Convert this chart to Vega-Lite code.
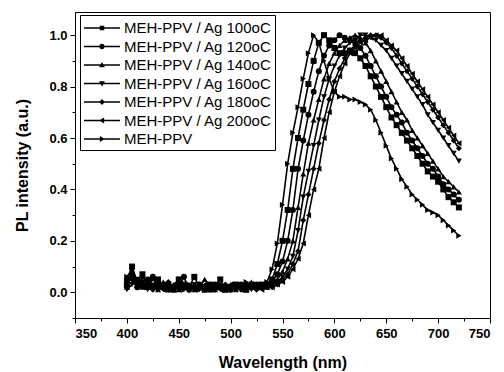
{
  "$schema": "https://vega.github.io/schema/vega-lite/v6.json",
  "autosize": "none",
  "width": 415,
  "height": 306,
  "padding": {"left": 75, "top": 12, "right": 14, "bottom": 54},
  "background": "white",
  "config": {
    "font": "Liberation Sans",
    "view": {"stroke": "black", "strokeWidth": 1},
    "axis": {"grid": false, "domainColor": "black", "tickColor": "black", "labelColor": "black", "titleColor": "black", "labelFontWeight": "bold", "labelFontSize": 13, "titleFontWeight": "bold", "titleFontSize": 16, "tickSize": 5, "domainWidth": 1, "tickWidth": 1}
  },
  "data": {"values": [
    {"x":400,"MEH-PPV / Ag 100oC":0.03,"MEH-PPV / Ag 120oC":0.05,"MEH-PPV / Ag 140oC":0.02,"MEH-PPV / Ag 160oC":0.01,"MEH-PPV / Ag 180oC":0.04,"MEH-PPV / Ag 200oC":0.02,"MEH-PPV":0.06},
    {"x":405,"MEH-PPV / Ag 100oC":0.10,"MEH-PPV / Ag 120oC":0.06,"MEH-PPV / Ag 140oC":0.08,"MEH-PPV / Ag 160oC":0.03,"MEH-PPV / Ag 180oC":0.05,"MEH-PPV / Ag 200oC":0.07,"MEH-PPV":0.09},
    {"x":410,"MEH-PPV / Ag 100oC":0.04,"MEH-PPV / Ag 120oC":0.02,"MEH-PPV / Ag 140oC":0.03,"MEH-PPV / Ag 160oC":0.05,"MEH-PPV / Ag 180oC":0.02,"MEH-PPV / Ag 200oC":0.03,"MEH-PPV":0.04},
    {"x":415,"MEH-PPV / Ag 100oC":0.07,"MEH-PPV / Ag 120oC":0.03,"MEH-PPV / Ag 140oC":0.02,"MEH-PPV / Ag 160oC":0.04,"MEH-PPV / Ag 180oC":0.06,"MEH-PPV / Ag 200oC":0.02,"MEH-PPV":0.03},
    {"x":420,"MEH-PPV / Ag 100oC":0.03,"MEH-PPV / Ag 120oC":0.05,"MEH-PPV / Ag 140oC":0.02,"MEH-PPV / Ag 160oC":0.01,"MEH-PPV / Ag 180oC":0.03,"MEH-PPV / Ag 200oC":0.04,"MEH-PPV":0.02},
    {"x":425,"MEH-PPV / Ag 100oC":0.02,"MEH-PPV / Ag 120oC":0.06,"MEH-PPV / Ag 140oC":0.03,"MEH-PPV / Ag 160oC":0.02,"MEH-PPV / Ag 180oC":0.01,"MEH-PPV / Ag 200oC":0.03,"MEH-PPV":0.05},
    {"x":430,"MEH-PPV / Ag 100oC":0.05,"MEH-PPV / Ag 120oC":0.02,"MEH-PPV / Ag 140oC":0.01,"MEH-PPV / Ag 160oC":0.03,"MEH-PPV / Ag 180oC":0.02,"MEH-PPV / Ag 200oC":0.04,"MEH-PPV":0.03},
    {"x":435,"MEH-PPV / Ag 100oC":0.02,"MEH-PPV / Ag 120oC":0.03,"MEH-PPV / Ag 140oC":0.04,"MEH-PPV / Ag 160oC":0.01,"MEH-PPV / Ag 180oC":0.02,"MEH-PPV / Ag 200oC":0.01,"MEH-PPV":0.02},
    {"x":440,"MEH-PPV / Ag 100oC":0.03,"MEH-PPV / Ag 120oC":0.01,"MEH-PPV / Ag 140oC":0.02,"MEH-PPV / Ag 160oC":0.03,"MEH-PPV / Ag 180oC":0.04,"MEH-PPV / Ag 200oC":0.02,"MEH-PPV":0.01},
    {"x":445,"MEH-PPV / Ag 100oC":0.01,"MEH-PPV / Ag 120oC":0.02,"MEH-PPV / Ag 140oC":0.03,"MEH-PPV / Ag 160oC":0.02,"MEH-PPV / Ag 180oC":0.01,"MEH-PPV / Ag 200oC":0.03,"MEH-PPV":0.02},
    {"x":450,"MEH-PPV / Ag 100oC":0.05,"MEH-PPV / Ag 120oC":0.02,"MEH-PPV / Ag 140oC":0.01,"MEH-PPV / Ag 160oC":0.03,"MEH-PPV / Ag 180oC":0.02,"MEH-PPV / Ag 200oC":0.01,"MEH-PPV":0.03},
    {"x":455,"MEH-PPV / Ag 100oC":0.03,"MEH-PPV / Ag 120oC":0.06,"MEH-PPV / Ag 140oC":0.02,"MEH-PPV / Ag 160oC":0.01,"MEH-PPV / Ag 180oC":0.03,"MEH-PPV / Ag 200oC":0.02,"MEH-PPV":0.01},
    {"x":460,"MEH-PPV / Ag 100oC":0.02,"MEH-PPV / Ag 120oC":0.01,"MEH-PPV / Ag 140oC":0.03,"MEH-PPV / Ag 160oC":0.02,"MEH-PPV / Ag 180oC":0.01,"MEH-PPV / Ag 200oC":0.02,"MEH-PPV":0.03},
    {"x":465,"MEH-PPV / Ag 100oC":0.06,"MEH-PPV / Ag 120oC":0.02,"MEH-PPV / Ag 140oC":0.01,"MEH-PPV / Ag 160oC":0.03,"MEH-PPV / Ag 180oC":0.02,"MEH-PPV / Ag 200oC":0.01,"MEH-PPV":0.02},
    {"x":470,"MEH-PPV / Ag 100oC":0.02,"MEH-PPV / Ag 120oC":0.03,"MEH-PPV / Ag 140oC":0.02,"MEH-PPV / Ag 160oC":0.01,"MEH-PPV / Ag 180oC":0.03,"MEH-PPV / Ag 200oC":0.02,"MEH-PPV":0.01},
    {"x":475,"MEH-PPV / Ag 100oC":0.01,"MEH-PPV / Ag 120oC":0.02,"MEH-PPV / Ag 140oC":0.05,"MEH-PPV / Ag 160oC":0.02,"MEH-PPV / Ag 180oC":0.01,"MEH-PPV / Ag 200oC":0.03,"MEH-PPV":0.02},
    {"x":480,"MEH-PPV / Ag 100oC":0.03,"MEH-PPV / Ag 120oC":0.01,"MEH-PPV / Ag 140oC":0.02,"MEH-PPV / Ag 160oC":0.03,"MEH-PPV / Ag 180oC":0.02,"MEH-PPV / Ag 200oC":0.01,"MEH-PPV":0.02},
    {"x":485,"MEH-PPV / Ag 100oC":0.02,"MEH-PPV / Ag 120oC":0.03,"MEH-PPV / Ag 140oC":0.01,"MEH-PPV / Ag 160oC":0.02,"MEH-PPV / Ag 180oC":0.01,"MEH-PPV / Ag 200oC":0.02,"MEH-PPV":0.01},
    {"x":490,"MEH-PPV / Ag 100oC":0.05,"MEH-PPV / Ag 120oC":0.02,"MEH-PPV / Ag 140oC":0.03,"MEH-PPV / Ag 160oC":0.01,"MEH-PPV / Ag 180oC":0.02,"MEH-PPV / Ag 200oC":0.01,"MEH-PPV":0.03},
    {"x":495,"MEH-PPV / Ag 100oC":0.01,"MEH-PPV / Ag 120oC":0.02,"MEH-PPV / Ag 140oC":0.01,"MEH-PPV / Ag 160oC":0.02,"MEH-PPV / Ag 180oC":0.03,"MEH-PPV / Ag 200oC":0.02,"MEH-PPV":0.01},
    {"x":500,"MEH-PPV / Ag 100oC":0.02,"MEH-PPV / Ag 120oC":0.01,"MEH-PPV / Ag 140oC":0.03,"MEH-PPV / Ag 160oC":0.02,"MEH-PPV / Ag 180oC":0.01,"MEH-PPV / Ag 200oC":0.03,"MEH-PPV":0.02},
    {"x":505,"MEH-PPV / Ag 100oC":0.03,"MEH-PPV / Ag 120oC":0.02,"MEH-PPV / Ag 140oC":0.01,"MEH-PPV / Ag 160oC":0.01,"MEH-PPV / Ag 180oC":0.02,"MEH-PPV / Ag 200oC":0.02,"MEH-PPV":0.03},
    {"x":510,"MEH-PPV / Ag 100oC":0.02,"MEH-PPV / Ag 120oC":0.03,"MEH-PPV / Ag 140oC":0.02,"MEH-PPV / Ag 160oC":0.03,"MEH-PPV / Ag 180oC":0.01,"MEH-PPV / Ag 200oC":0.01,"MEH-PPV":0.02},
    {"x":515,"MEH-PPV / Ag 100oC":0.01,"MEH-PPV / Ag 120oC":0.02,"MEH-PPV / Ag 140oC":0.01,"MEH-PPV / Ag 160oC":0.02,"MEH-PPV / Ag 180oC":0.03,"MEH-PPV / Ag 200oC":0.02,"MEH-PPV":0.04},
    {"x":520,"MEH-PPV / Ag 100oC":0.03,"MEH-PPV / Ag 120oC":0.02,"MEH-PPV / Ag 140oC":0.04,"MEH-PPV / Ag 160oC":0.01,"MEH-PPV / Ag 180oC":0.02,"MEH-PPV / Ag 200oC":0.03,"MEH-PPV":0.02},
    {"x":525,"MEH-PPV / Ag 100oC":0.02,"MEH-PPV / Ag 120oC":0.03,"MEH-PPV / Ag 140oC":0.02,"MEH-PPV / Ag 160oC":0.02,"MEH-PPV / Ag 180oC":0.01,"MEH-PPV / Ag 200oC":0.02,"MEH-PPV":0.03},
    {"x":530,"MEH-PPV / Ag 100oC":0.03,"MEH-PPV / Ag 120oC":0.02,"MEH-PPV / Ag 140oC":0.03,"MEH-PPV / Ag 160oC":0.02,"MEH-PPV / Ag 180oC":0.02,"MEH-PPV / Ag 200oC":0.01,"MEH-PPV":0.03},
    {"x":535,"MEH-PPV / Ag 100oC":0.03,"MEH-PPV / Ag 120oC":0.03,"MEH-PPV / Ag 140oC":0.02,"MEH-PPV / Ag 160oC":0.03,"MEH-PPV / Ag 180oC":0.02,"MEH-PPV / Ag 200oC":0.02,"MEH-PPV":0.04},
    {"x":540,"MEH-PPV / Ag 100oC":0.05,"MEH-PPV / Ag 120oC":0.04,"MEH-PPV / Ag 140oC":0.03,"MEH-PPV / Ag 160oC":0.03,"MEH-PPV / Ag 180oC":0.02,"MEH-PPV / Ag 200oC":0.02,"MEH-PPV":0.09},
    {"x":545,"MEH-PPV / Ag 100oC":0.11,"MEH-PPV / Ag 120oC":0.07,"MEH-PPV / Ag 140oC":0.05,"MEH-PPV / Ag 160oC":0.04,"MEH-PPV / Ag 180oC":0.03,"MEH-PPV / Ag 200oC":0.03,"MEH-PPV":0.19},
    {"x":550,"MEH-PPV / Ag 100oC":0.20,"MEH-PPV / Ag 120oC":0.12,"MEH-PPV / Ag 140oC":0.08,"MEH-PPV / Ag 160oC":0.06,"MEH-PPV / Ag 180oC":0.05,"MEH-PPV / Ag 200oC":0.04,"MEH-PPV":0.34},
    {"x":555,"MEH-PPV / Ag 100oC":0.32,"MEH-PPV / Ag 120oC":0.20,"MEH-PPV / Ag 140oC":0.13,"MEH-PPV / Ag 160oC":0.09,"MEH-PPV / Ag 180oC":0.07,"MEH-PPV / Ag 200oC":0.06,"MEH-PPV":0.50},
    {"x":560,"MEH-PPV / Ag 100oC":0.48,"MEH-PPV / Ag 120oC":0.32,"MEH-PPV / Ag 140oC":0.20,"MEH-PPV / Ag 160oC":0.14,"MEH-PPV / Ag 180oC":0.11,"MEH-PPV / Ag 200oC":0.09,"MEH-PPV":0.62},
    {"x":565,"MEH-PPV / Ag 100oC":0.60,"MEH-PPV / Ag 120oC":0.48,"MEH-PPV / Ag 140oC":0.33,"MEH-PPV / Ag 160oC":0.24,"MEH-PPV / Ag 180oC":0.16,"MEH-PPV / Ag 200oC":0.13,"MEH-PPV":0.72},
    {"x":570,"MEH-PPV / Ag 100oC":0.71,"MEH-PPV / Ag 120oC":0.59,"MEH-PPV / Ag 140oC":0.46,"MEH-PPV / Ag 160oC":0.37,"MEH-PPV / Ag 180oC":0.28,"MEH-PPV / Ag 200oC":0.19,"MEH-PPV":0.83},
    {"x":575,"MEH-PPV / Ag 100oC":0.81,"MEH-PPV / Ag 120oC":0.69,"MEH-PPV / Ag 140oC":0.58,"MEH-PPV / Ag 160oC":0.47,"MEH-PPV / Ag 180oC":0.38,"MEH-PPV / Ag 200oC":0.30,"MEH-PPV":0.93},
    {"x":580,"MEH-PPV / Ag 100oC":0.90,"MEH-PPV / Ag 120oC":0.78,"MEH-PPV / Ag 140oC":0.67,"MEH-PPV / Ag 160oC":0.57,"MEH-PPV / Ag 180oC":0.48,"MEH-PPV / Ag 200oC":0.40,"MEH-PPV":1.00},
    {"x":585,"MEH-PPV / Ag 100oC":0.97,"MEH-PPV / Ag 120oC":0.86,"MEH-PPV / Ag 140oC":0.75,"MEH-PPV / Ag 160oC":0.67,"MEH-PPV / Ag 180oC":0.58,"MEH-PPV / Ag 200oC":0.48,"MEH-PPV":0.97},
    {"x":590,"MEH-PPV / Ag 100oC":1.00,"MEH-PPV / Ag 120oC":0.92,"MEH-PPV / Ag 140oC":0.83,"MEH-PPV / Ag 160oC":0.76,"MEH-PPV / Ag 180oC":0.67,"MEH-PPV / Ag 200oC":0.60,"MEH-PPV":0.90},
    {"x":595,"MEH-PPV / Ag 100oC":0.98,"MEH-PPV / Ag 120oC":0.96,"MEH-PPV / Ag 140oC":0.89,"MEH-PPV / Ag 160oC":0.83,"MEH-PPV / Ag 180oC":0.75,"MEH-PPV / Ag 200oC":0.70,"MEH-PPV":0.83},
    {"x":600,"MEH-PPV / Ag 100oC":0.95,"MEH-PPV / Ag 120oC":0.98,"MEH-PPV / Ag 140oC":0.93,"MEH-PPV / Ag 160oC":0.88,"MEH-PPV / Ag 180oC":0.82,"MEH-PPV / Ag 200oC":0.78,"MEH-PPV":0.78},
    {"x":605,"MEH-PPV / Ag 100oC":0.93,"MEH-PPV / Ag 120oC":1.00,"MEH-PPV / Ag 140oC":0.96,"MEH-PPV / Ag 160oC":0.92,"MEH-PPV / Ag 180oC":0.87,"MEH-PPV / Ag 200oC":0.84,"MEH-PPV":0.76},
    {"x":610,"MEH-PPV / Ag 100oC":0.93,"MEH-PPV / Ag 120oC":0.99,"MEH-PPV / Ag 140oC":0.98,"MEH-PPV / Ag 160oC":0.95,"MEH-PPV / Ag 180oC":0.91,"MEH-PPV / Ag 200oC":0.89,"MEH-PPV":0.76},
    {"x":615,"MEH-PPV / Ag 100oC":0.94,"MEH-PPV / Ag 120oC":0.98,"MEH-PPV / Ag 140oC":0.99,"MEH-PPV / Ag 160oC":0.97,"MEH-PPV / Ag 180oC":0.94,"MEH-PPV / Ag 200oC":0.93,"MEH-PPV":0.75},
    {"x":620,"MEH-PPV / Ag 100oC":0.93,"MEH-PPV / Ag 120oC":0.97,"MEH-PPV / Ag 140oC":1.00,"MEH-PPV / Ag 160oC":0.98,"MEH-PPV / Ag 180oC":0.96,"MEH-PPV / Ag 200oC":0.95,"MEH-PPV":0.75},
    {"x":625,"MEH-PPV / Ag 100oC":0.91,"MEH-PPV / Ag 120oC":0.95,"MEH-PPV / Ag 140oC":0.99,"MEH-PPV / Ag 160oC":1.00,"MEH-PPV / Ag 180oC":0.98,"MEH-PPV / Ag 200oC":0.97,"MEH-PPV":0.74},
    {"x":630,"MEH-PPV / Ag 100oC":0.88,"MEH-PPV / Ag 120oC":0.92,"MEH-PPV / Ag 140oC":0.97,"MEH-PPV / Ag 160oC":1.00,"MEH-PPV / Ag 180oC":0.99,"MEH-PPV / Ag 200oC":0.98,"MEH-PPV":0.73},
    {"x":635,"MEH-PPV / Ag 100oC":0.84,"MEH-PPV / Ag 120oC":0.88,"MEH-PPV / Ag 140oC":0.94,"MEH-PPV / Ag 160oC":0.99,"MEH-PPV / Ag 180oC":1.00,"MEH-PPV / Ag 200oC":0.99,"MEH-PPV":0.71},
    {"x":640,"MEH-PPV / Ag 100oC":0.80,"MEH-PPV / Ag 120oC":0.84,"MEH-PPV / Ag 140oC":0.90,"MEH-PPV / Ag 160oC":0.98,"MEH-PPV / Ag 180oC":1.00,"MEH-PPV / Ag 200oC":1.00,"MEH-PPV":0.67},
    {"x":645,"MEH-PPV / Ag 100oC":0.76,"MEH-PPV / Ag 120oC":0.80,"MEH-PPV / Ag 140oC":0.86,"MEH-PPV / Ag 160oC":0.96,"MEH-PPV / Ag 180oC":0.99,"MEH-PPV / Ag 200oC":1.00,"MEH-PPV":0.62},
    {"x":650,"MEH-PPV / Ag 100oC":0.72,"MEH-PPV / Ag 120oC":0.76,"MEH-PPV / Ag 140oC":0.82,"MEH-PPV / Ag 160oC":0.94,"MEH-PPV / Ag 180oC":0.97,"MEH-PPV / Ag 200oC":0.98,"MEH-PPV":0.57},
    {"x":655,"MEH-PPV / Ag 100oC":0.68,"MEH-PPV / Ag 120oC":0.72,"MEH-PPV / Ag 140oC":0.78,"MEH-PPV / Ag 160oC":0.91,"MEH-PPV / Ag 180oC":0.95,"MEH-PPV / Ag 200oC":0.96,"MEH-PPV":0.52},
    {"x":660,"MEH-PPV / Ag 100oC":0.65,"MEH-PPV / Ag 120oC":0.69,"MEH-PPV / Ag 140oC":0.74,"MEH-PPV / Ag 160oC":0.88,"MEH-PPV / Ag 180oC":0.92,"MEH-PPV / Ag 200oC":0.94,"MEH-PPV":0.48},
    {"x":665,"MEH-PPV / Ag 100oC":0.62,"MEH-PPV / Ag 120oC":0.66,"MEH-PPV / Ag 140oC":0.70,"MEH-PPV / Ag 160oC":0.85,"MEH-PPV / Ag 180oC":0.89,"MEH-PPV / Ag 200oC":0.91,"MEH-PPV":0.44},
    {"x":670,"MEH-PPV / Ag 100oC":0.59,"MEH-PPV / Ag 120oC":0.62,"MEH-PPV / Ag 140oC":0.67,"MEH-PPV / Ag 160oC":0.82,"MEH-PPV / Ag 180oC":0.86,"MEH-PPV / Ag 200oC":0.88,"MEH-PPV":0.41},
    {"x":675,"MEH-PPV / Ag 100oC":0.56,"MEH-PPV / Ag 120oC":0.59,"MEH-PPV / Ag 140oC":0.63,"MEH-PPV / Ag 160oC":0.79,"MEH-PPV / Ag 180oC":0.83,"MEH-PPV / Ag 200oC":0.85,"MEH-PPV":0.38},
    {"x":680,"MEH-PPV / Ag 100oC":0.53,"MEH-PPV / Ag 120oC":0.56,"MEH-PPV / Ag 140oC":0.60,"MEH-PPV / Ag 160oC":0.76,"MEH-PPV / Ag 180oC":0.80,"MEH-PPV / Ag 200oC":0.82,"MEH-PPV":0.36},
    {"x":685,"MEH-PPV / Ag 100oC":0.50,"MEH-PPV / Ag 120oC":0.53,"MEH-PPV / Ag 140oC":0.57,"MEH-PPV / Ag 160oC":0.73,"MEH-PPV / Ag 180oC":0.77,"MEH-PPV / Ag 200oC":0.79,"MEH-PPV":0.34},
    {"x":690,"MEH-PPV / Ag 100oC":0.47,"MEH-PPV / Ag 120oC":0.50,"MEH-PPV / Ag 140oC":0.54,"MEH-PPV / Ag 160oC":0.69,"MEH-PPV / Ag 180oC":0.74,"MEH-PPV / Ag 200oC":0.76,"MEH-PPV":0.32},
    {"x":695,"MEH-PPV / Ag 100oC":0.45,"MEH-PPV / Ag 120oC":0.48,"MEH-PPV / Ag 140oC":0.51,"MEH-PPV / Ag 160oC":0.66,"MEH-PPV / Ag 180oC":0.71,"MEH-PPV / Ag 200oC":0.73,"MEH-PPV":0.31},
    {"x":700,"MEH-PPV / Ag 100oC":0.43,"MEH-PPV / Ag 120oC":0.45,"MEH-PPV / Ag 140oC":0.48,"MEH-PPV / Ag 160oC":0.63,"MEH-PPV / Ag 180oC":0.68,"MEH-PPV / Ag 200oC":0.70,"MEH-PPV":0.30},
    {"x":705,"MEH-PPV / Ag 100oC":0.40,"MEH-PPV / Ag 120oC":0.42,"MEH-PPV / Ag 140oC":0.45,"MEH-PPV / Ag 160oC":0.60,"MEH-PPV / Ag 180oC":0.65,"MEH-PPV / Ag 200oC":0.67,"MEH-PPV":0.28},
    {"x":710,"MEH-PPV / Ag 100oC":0.37,"MEH-PPV / Ag 120oC":0.40,"MEH-PPV / Ag 140oC":0.43,"MEH-PPV / Ag 160oC":0.57,"MEH-PPV / Ag 180oC":0.62,"MEH-PPV / Ag 200oC":0.64,"MEH-PPV":0.26},
    {"x":715,"MEH-PPV / Ag 100oC":0.35,"MEH-PPV / Ag 120oC":0.38,"MEH-PPV / Ag 140oC":0.41,"MEH-PPV / Ag 160oC":0.54,"MEH-PPV / Ag 180oC":0.59,"MEH-PPV / Ag 200oC":0.61,"MEH-PPV":0.24},
    {"x":720,"MEH-PPV / Ag 100oC":0.33,"MEH-PPV / Ag 120oC":0.36,"MEH-PPV / Ag 140oC":0.39,"MEH-PPV / Ag 160oC":0.51,"MEH-PPV / Ag 180oC":0.56,"MEH-PPV / Ag 200oC":0.58,"MEH-PPV":0.22}
  ]},
  "transform": [
    {"fold": ["MEH-PPV / Ag 100oC","MEH-PPV / Ag 120oC","MEH-PPV / Ag 140oC","MEH-PPV / Ag 160oC","MEH-PPV / Ag 180oC","MEH-PPV / Ag 200oC","MEH-PPV"], "as": ["series","y"]}
  ],
  "resolve": {"scale": {"shape": "independent"}, "legend": {"shape": "independent"}, "axis": {"x": "independent", "y": "independent"}},
  "layer": [
    {
      "mark": {"type": "line", "color": "black", "strokeWidth": 1.6},
      "encoding": {
        "x": {"field": "x", "type": "quantitative", "scale": {"domain": [350, 750], "nice": false, "zero": false},
              "axis": {"orient": "bottom", "values": [350,400,450,500,550,600,650,700,750], "title": "Wavelength (nm)", "titlePadding": 14, "labelPadding": 4}},
        "y": {"field": "y", "type": "quantitative", "scale": {"domain": [-0.1, 1.09], "nice": false, "zero": false},
              "axis": {"orient": "left", "values": [0,0.2,0.4,0.6,0.8,1.0], "format": ".1f", "title": "PL intensity (a.u.)", "titlePadding": 18, "labelPadding": 3}},
        "detail": {"field": "series", "type": "nominal"}
      }
    },
    {
      "mark": {"type": "point", "filled": true, "color": "black", "size": 36, "opacity": 1},
      "encoding": {
        "x": {"field": "x", "type": "quantitative", "axis": null},
        "y": {"field": "y", "type": "quantitative", "axis": null},
        "shape": {"field": "series", "type": "nominal",
                  "scale": {"domain": ["MEH-PPV / Ag 100oC","MEH-PPV / Ag 120oC","MEH-PPV / Ag 140oC","MEH-PPV / Ag 160oC","MEH-PPV / Ag 180oC","MEH-PPV / Ag 200oC","MEH-PPV"],
                            "range": ["square","circle","triangle-up","triangle-down","diamond","triangle-left","triangle-right"]},
                  "legend": null}
      }
    },
    {
      "transform": [{"filter": "datum.x < 0"}],
      "mark": {"type": "point", "filled": true, "color": "black", "opacity": 1},
      "encoding": {
        "x": {"field": "x", "type": "quantitative", "axis": {"orient": "bottom", "values": [375,425,475,525,575,625,675,725], "labels": false, "title": null, "domain": false, "tickSize": 3}},
        "y": {"field": "y", "type": "quantitative", "axis": {"orient": "left", "values": [-0.1,0.1,0.3,0.5,0.7,0.9], "labels": false, "title": null, "domain": false, "tickSize": 3}},
        "shape": {"field": "series", "type": "nominal",
                  "scale": {"domain": ["MEH-PPV / Ag 100oC","MEH-PPV / Ag 120oC","MEH-PPV / Ag 140oC","MEH-PPV / Ag 160oC","MEH-PPV / Ag 180oC","MEH-PPV / Ag 200oC","MEH-PPV"],
                            "range": [
                              "M-1,-0.07L3,-0.07L3,0.07L-1,0.07Z M0.75,-0.25L1.25,-0.25L1.25,0.25L0.75,0.25Z",
                              "M-1,-0.07L3,-0.07L3,0.07L-1,0.07Z M1.3,0A0.3,0.3 0 1,1 0.7,0A0.3,0.3 0 1,1 1.3,0Z",
                              "M-1,-0.07L3,-0.07L3,0.07L-1,0.07Z M1,-0.32L1.32,0.24L0.68,0.24Z",
                              "M-1,-0.07L3,-0.07L3,0.07L-1,0.07Z M1,0.32L0.68,-0.24L1.32,-0.24Z",
                              "M-1,-0.07L3,-0.07L3,0.07L-1,0.07Z M1,-0.34L1.32,0L1,0.34L0.68,0Z",
                              "M-1,-0.07L3,-0.07L3,0.07L-1,0.07Z M0.68,0L1.24,-0.32L1.24,0.32Z",
                              "M-1,-0.07L3,-0.07L3,0.07L-1,0.07Z M1.32,0L0.76,0.32L0.76,-0.32Z"
                            ]},
                  "legend": {"title": null, "orient": "none", "legendX": 5, "legendY": 3,
                             "symbolSize": 324, "labelFontSize": 15, "labelColor": "black", "labelFont": "Liberation Sans",
                             "strokeColor": "black", "padding": 3, "rowPadding": 0.5, "labelOffset": 21,
                             "symbolFillColor": "black", "symbolOpacity": 1}}
      }
    }
  ]
}
